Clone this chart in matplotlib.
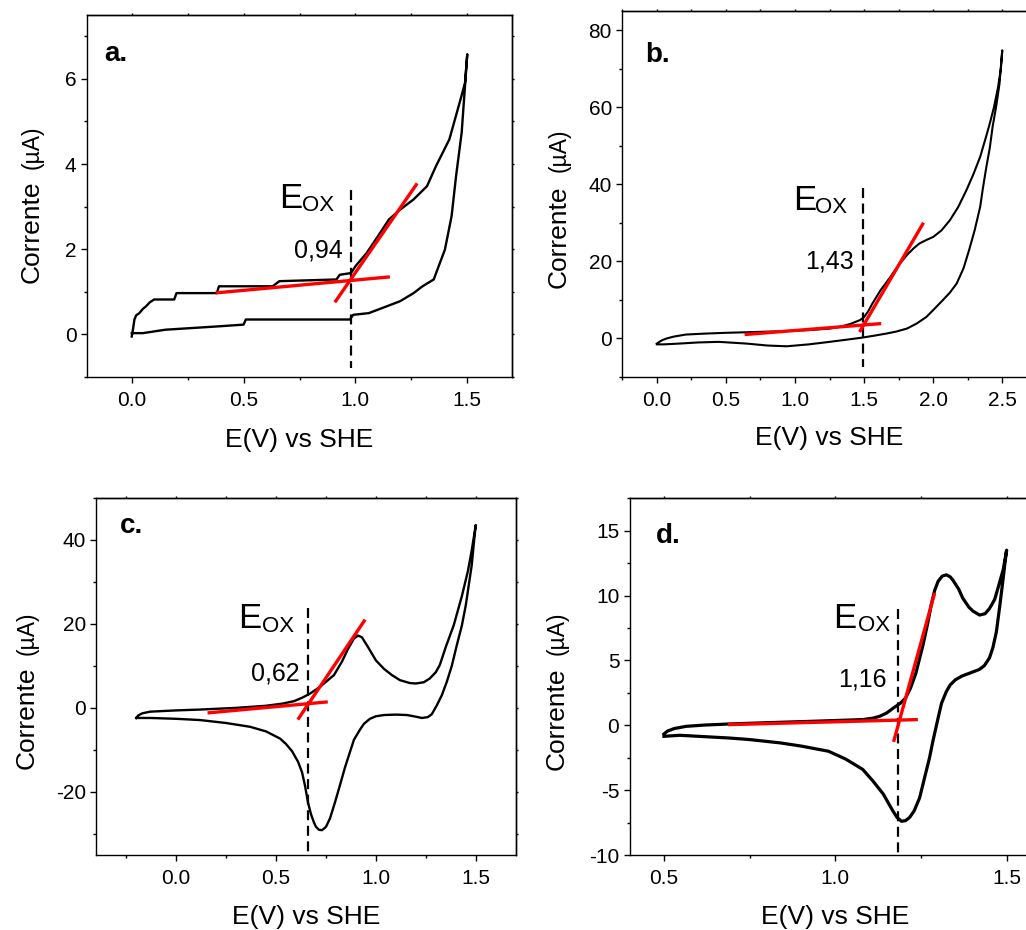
import matplotlib
matplotlib.use('Agg')
import matplotlib.pyplot as plt
from matplotlib.ticker import MultipleLocator

plt.rcParams['font.family'] = ['Liberation Sans', 'DejaVu Sans']
plt.rcParams['axes.unicode_minus'] = False

# ---------------- data ----------------
# panel a
a_x = [0.0, 0.005, 0.012, 0.02, 0.034, 0.05, 0.064, 0.08, 0.10, 0.19, 0.20, 0.38, 0.39, 0.63, 0.66,
       0.915, 0.93, 0.98, 1.00, 1.05, 1.10, 1.15, 1.20, 1.26, 1.32, 1.36, 1.42, 1.47, 1.49, 1.50,
       1.49, 1.475, 1.45, 1.43, 1.40, 1.35, 1.30, 1.26, 1.20, 1.14, 1.06, 0.99, 0.975, 0.87, 0.51,
       0.50, 0.39, 0.27, 0.15, 0.05, 0.0]
a_y = [-0.05, 0.1, 0.35, 0.45, 0.5, 0.6, 0.66, 0.75, 0.82, 0.82, 0.97, 0.97, 1.13, 1.13, 1.25,
       1.29, 1.4, 1.44, 1.6, 1.91, 2.3, 2.7, 2.93, 3.17, 3.48, 3.95, 4.58, 5.52, 5.91, 6.58,
       5.84, 4.74, 3.72, 2.78, 1.99, 1.29, 1.13, 0.97, 0.78, 0.66, 0.50, 0.46, 0.35, 0.35, 0.35,
       0.23, 0.19, 0.15, 0.11, 0.03, 0.03]
a_tan1_x = [0.375, 1.154]
a_tan1_y = [0.974, 1.351]
a_tan2_x = [0.908, 1.276]
a_tan2_y = [0.753, 3.546]
a_eox = 0.98
a_eox_y = [3.40, -0.79]
a_label = "0,94"

# panel b
b_x = [0.0, 0.02, 0.04, 0.068, 0.12, 0.21, 0.35, 0.5, 0.7, 0.89, 1.1, 1.25, 1.33, 1.4, 1.47, 1.5,
       1.53, 1.56, 1.62, 1.69, 1.75, 1.81, 1.86, 1.9, 1.95, 2.0, 2.06, 2.12, 2.18, 2.24, 2.29, 2.34,
       2.38, 2.41, 2.44, 2.47, 2.49, 2.5,
       2.49, 2.48, 2.455, 2.43, 2.41, 2.385, 2.36, 2.34, 2.3, 2.26, 2.22, 2.17, 2.12, 2.07, 2.0,
       1.95, 1.88, 1.81, 1.73, 1.66, 1.58, 1.49, 1.37, 1.25, 1.1, 0.94, 0.8, 0.65, 0.45, 0.3, 0.16,
       0.05, 0.0]
b_y = [-1.4, -0.9, -0.5, -0.1, 0.4, 0.95, 1.2, 1.4, 1.6, 1.8, 2.1, 2.5, 3.0, 3.7, 4.7, 5.5,
       7.0, 9.0, 12.5, 15.9, 19.0, 21.6, 23.4, 24.6, 25.5, 26.3, 28.0, 30.6, 34.0, 38.4, 42.5, 47.1,
       52.0, 55.8, 60.0, 65.3, 70.0, 74.8,
       70.5, 66.1, 60.0, 54.9, 49.5, 44.5, 39.0, 34.1, 28.0, 22.9, 18.2, 14.2, 11.8, 9.9, 7.3,
       5.5, 3.8, 2.5, 1.7, 1.2, 0.7, 0.17, -0.4, -0.95, -1.6, -2.1, -1.9, -1.4, -0.95, -1.1, -1.4,
       -1.6, -1.6]
b_tan1_x = [0.635, 1.624]
b_tan1_y = [0.95, 3.8]
b_tan2_x = [1.467, 1.93]
b_tan2_y = [1.6, 30.0]
b_eox = 1.49
b_eox_y = [38.9, -7.4]
b_label = "1,43"

# panel c
c_x = [-0.2, -0.19, -0.17, -0.13, 0.0, 0.12, 0.3, 0.45, 0.53, 0.59, 0.63, 0.67, 0.72, 0.79, 0.83,
       0.86, 0.89, 0.91, 0.93, 0.96, 1.0, 1.04, 1.08, 1.12, 1.17, 1.2, 1.24, 1.27, 1.30, 1.32, 1.35,
       1.39, 1.43, 1.46, 1.48, 1.5,
       1.49, 1.48, 1.45, 1.43, 1.405, 1.38, 1.355, 1.33, 1.305, 1.28, 1.26, 1.23, 1.19, 1.155, 1.10,
       1.04, 1.0, 0.97, 0.94, 0.92, 0.89, 0.87, 0.845, 0.82, 0.795, 0.77, 0.75, 0.73, 0.715, 0.7,
       0.69, 0.675, 0.66, 0.645, 0.63, 0.61, 0.58, 0.55, 0.52, 0.45, 0.37, 0.25, 0.12, 0.0, -0.13,
       -0.2]
c_y = [-2.4, -1.8, -1.3, -0.9, -0.6, -0.4, 0.0, 0.5, 1.0, 1.6, 2.4, 3.4, 5.0, 7.8, 11.0,
       14.0, 16.5, 17.2, 16.8, 14.5, 11.3, 9.3, 7.8, 6.6, 5.9, 5.8, 6.1, 7.0, 8.5, 10.2, 14.5,
       19.7, 26.5, 32.4, 37.5, 43.5,
       39.0, 34.0, 24.4, 19.5, 14.9, 10.0, 6.2, 3.0, 0.6, -1.5, -2.2, -2.4, -2.0, -1.7, -1.6,
       -1.7, -2.0, -2.6, -3.8, -5.2, -7.6, -10.5, -14.2, -18.4, -22.5, -26.3, -28.3, -29.1, -29.0, -28.3,
       -27.3, -25.3, -22.5, -18.5, -15.3, -12.8, -10.3, -8.6, -7.3, -5.6, -4.5, -3.6, -2.9, -2.6, -2.4,
       -2.4]
c_tan1_x = [0.157, 0.759]
c_tan1_y = [-1.2, 1.43]
c_tan2_x = [0.609, 0.946]
c_tan2_y = [-2.8, 21.0]
c_eox = 0.662
c_eox_y = [23.7, -35.0]
c_label = "0,62"

# panel d
d_x = [0.5, 0.51, 0.53, 0.565, 0.62, 0.69, 0.8, 0.935, 1.08, 1.11, 1.13, 1.15, 1.17, 1.19, 1.205,
       1.22, 1.235, 1.256, 1.27, 1.28, 1.29, 1.3, 1.312, 1.324, 1.335, 1.343, 1.36, 1.372, 1.39,
       1.402, 1.421, 1.437, 1.45, 1.465, 1.475, 1.49, 1.5,
       1.495, 1.49, 1.48, 1.47, 1.46, 1.45, 1.435, 1.42, 1.39, 1.37, 1.35, 1.335, 1.324, 1.31, 1.3,
       1.285, 1.275, 1.26, 1.246, 1.23, 1.217, 1.205, 1.193, 1.18, 1.168, 1.155, 1.14, 1.11, 1.08,
       1.03, 0.98, 0.9, 0.84, 0.75, 0.69, 0.6, 0.546, 0.5]
d_y = [-0.67, -0.45, -0.25, -0.08, 0.02, 0.1, 0.2, 0.31, 0.44, 0.55, 0.7, 0.95, 1.34, 1.7, 2.1,
       2.9, 4.0, 6.2, 7.9, 9.3, 10.4, 11.1, 11.5, 11.6, 11.45, 11.2, 10.5, 9.8, 9.1,
       8.8, 8.5, 8.6, 9.0, 9.7, 10.6, 12.0, 13.5,
       12.5, 11.35, 9.2, 7.2, 6.0, 5.2, 4.6, 4.3, 4.0, 3.8, 3.5, 3.1, 2.6, 1.7, 0.56,
       -1.2, -2.5, -4.1, -5.6, -6.6, -7.1, -7.35, -7.4, -7.1, -6.6, -6.0, -5.3, -4.3, -3.4,
       -2.6, -2.0, -1.6, -1.36, -1.1, -0.98, -0.85, -0.77, -0.85]
d_tan1_x = [0.687, 1.241]
d_tan1_y = [0.05, 0.44]
d_tan2_x = [1.17, 1.29]
d_tan2_y = [-1.28, 10.2]
d_eox = 1.183
d_eox_y = [9.0, -10.2]
d_label = "1,16"

panel_letters = ["a.", "b.", "c.", "d."]
xlabel = "E(V) vs SHE"

# ---------------- figure ----------------
W, H = 1026, 930
fig = plt.figure(figsize=(W / 100, H / 100), dpi=100)


def make_axes(left, top, right, bottom, xlim, ylim, xmaj, xmin, ymaj, ymin):
    ax = fig.add_axes([left / W, 1 - bottom / H, (right - left) / W, (bottom - top) / H])
    ax.set_xlim(*xlim)
    ax.set_ylim(*ylim)
    ax.xaxis.set_major_locator(MultipleLocator(xmaj))
    ax.xaxis.set_minor_locator(MultipleLocator(xmin))
    ax.yaxis.set_major_locator(MultipleLocator(ymaj))
    ax.yaxis.set_minor_locator(MultipleLocator(ymin))
    for s in ax.spines.values():
        s.set_linewidth(1.0)
    ax.tick_params(axis='both', which='major', direction='out', length=4.5, width=1.0,
                   labelsize=15, colors='black')
    ax.tick_params(axis='both', which='minor', direction='out', length=2.5, width=1.0)
    ax.tick_params(axis='x', which='major', pad=5.5)
    ax.tick_params(axis='y', which='major', pad=3.0)
    sx = ax.secondary_xaxis('top')
    sx.xaxis.set_major_locator(MultipleLocator(xmin))
    sx.tick_params(direction='out', length=1.5, width=1.0, labeltop=False)
    sx.spines['top'].set_linewidth(1.0)
    sy = ax.secondary_yaxis('right')
    sy.yaxis.set_major_locator(MultipleLocator(ymin))
    sy.tick_params(direction='out', length=1.5, width=1.0, labelright=False)
    sy.spines['right'].set_linewidth(1.0)
    return ax


def decorate(ax, x, y, lw, t1x, t1y, t2x, t2y, eox, eoxy, lab, lab_pos, e_pos, ox_pos,
             letter, letter_pos, ylab_x, ylab_y0, ylab_y1, xlab_dy):
    ax.plot(x, y, color='black', lw=lw, solid_joinstyle='round', zorder=2)
    ax.plot([eox, eox], eoxy, color='black', lw=1.6, ls=(0, (4.5, 2.5)), zorder=3)
    ax.plot(t1x, t1y, color='#ff0000', lw=2.4, zorder=4, solid_capstyle='butt')
    ax.plot(t2x, t2y, color='#ff0000', lw=2.4, zorder=4, solid_capstyle='butt')
    ax.text(e_pos[0], e_pos[1], "E", fontsize=25, ha='left', va='baseline')
    ax.text(ox_pos[0], ox_pos[1], "OX", fontsize=16, ha='left', va='baseline')
    ax.text(lab_pos[0], lab_pos[1], lab, fontsize=18, ha='right', va='baseline')
    ax.text(letter_pos[0], letter_pos[1], letter, fontsize=20, fontweight='bold',
            ha='left', va='baseline')
    ax.text(ylab_x, ylab_y0, "Corrente", fontsize=19, rotation=90, rotation_mode='anchor',
            ha='left', va='baseline', transform=ax.transAxes)
    ax.text(ylab_x, ylab_y1, "(µA)", fontsize=16.5, rotation=90, rotation_mode='anchor',
            ha='left', va='baseline', transform=ax.transAxes)
    ax.text(0.5, xlab_dy, xlabel, fontsize=19, ha='center', va='baseline',
            transform=ax.transAxes)


ax_a = make_axes(87, 15, 512, 377, (-0.2, 1.7), (-1, 7.5), 0.5, 0.25, 2, 1)
decorate(ax_a, a_x, a_y, 1.7, a_tan1_x, a_tan1_y, a_tan2_x, a_tan2_y, a_eox, a_eox_y, a_label,
         (0.942, 1.80), (0.658, 2.974), (0.759, 2.894), panel_letters[0], (-0.122, 6.42),
         -0.114, 0.2588, 0.575, -69.7 / 362)

ax_b = make_axes(622.3, 11, 1036.8, 376.7, (-0.25, 2.75), (-10, 85), 0.5, 0.25, 20, 10)
decorate(ax_b, b_x, b_y, 1.5, b_tan1_x, b_tan1_y, b_tan2_x, b_tan2_y, b_eox, b_eox_y, b_label,
         (1.424, 18.1), (0.985, 33.25), (1.142, 32.4), panel_letters[1], (-0.082, 71.8),
         -0.1366, 0.2417, 0.559, -68.3 / 365.7)

ax_c = make_axes(96.3, 497.7, 515.7, 855, (-0.4, 1.7), (-35, 50), 0.5, 0.25, 20, 10)
decorate(ax_c, c_x, c_y, 1.7, c_tan1_x, c_tan1_y, c_tan2_x, c_tan2_y, c_eox, c_eox_y, c_label,
         (0.617, 6.59), (0.312, 18.9), (0.429, 18.1), panel_letters[2], (-0.284, 41.5),
         -0.150, 0.241, 0.559, -69.0 / 357.3)

ax_d = make_axes(629.7, 498.3, 1040.9, 855, (0.4, 1.6), (-10, 17.5), 0.5, 0.25, 5, 2.5)
decorate(ax_d, d_x, d_y, 2.3, d_tan1_x, d_tan1_y, d_tan2_x, d_tan2_y, d_eox, d_eox_y, d_label,
         (1.151, 3.0), (0.995, 7.5), (1.066, 7.24), panel_letters[3], (0.476, 14.05),
         -0.160, 0.238, 0.560, -69.0 / 356.7)

fig.savefig('out.png', dpi=100)
